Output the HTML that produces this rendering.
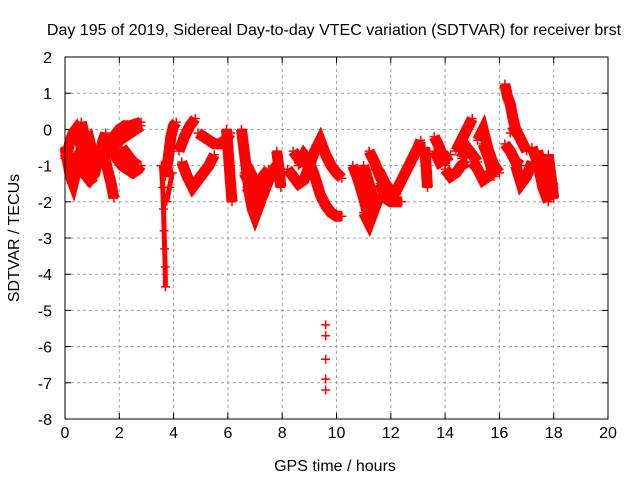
<!DOCTYPE html>
<html><head><meta charset="utf-8"><style>
body{margin:0;background:#fff}
svg text{font-family:"Liberation Sans",sans-serif;font-size:16px;fill:#000}
</style></head><body>
<svg id="chart" width="640" height="480" xmlns="http://www.w3.org/2000/svg">
<rect width="640" height="480" fill="#fff"/>
<text x="334" y="35" text-anchor="middle">Day 195 of 2019, Sidereal Day-to-day VTEC variation (SDTVAR) for receiver brst</text>
<g id="grid"></g>
<g id="axes"></g>
<g id="marks"></g>
<rect x="65" y="57" width="543" height="362" fill="none" stroke="#000" stroke-width="1"/>
<text x="335" y="471" text-anchor="middle">GPS time / hours</text>
<text transform="translate(19,238) rotate(-90)" text-anchor="middle">SDTVAR / TECUs</text>
</svg>
<script>
const xTicks=[0,2,4,6,8,10,12,14,16,18,20];
const yTicks=[2,1,0,-1,-2,-3,-4,-5,-6,-7,-8];
const arcTimes=[
[0,0.1,0.2,0.3,0.4,0.5,0.6,0.7,0.8],
[0,0.1,0.2,0.3,0.4,0.5],
[0.6,0.7,0.8,0.9,1.0,1.1],
[0.8,0.9,1.0,1.1,1.2,1.3,1.4,1.5],
[1.4,1.5,1.6,1.7,1.8],
[1.6,1.8,2.0,2.2,2.4,2.6,2.8],
[1.6,1.8,2.0,2.2,2.4,2.6,2.8],
[1.7,1.9,2.1,2.3,2.5,2.7,2.8],
[3.55,3.6,3.63,3.65,3.67,3.69,3.7],
[3.7,3.8,3.9,4.0,4.1],
[3.75,3.85,3.95],
[4.3,4.5,4.7,4.9,5.1,5.3,5.5],
[4.2,4.4,4.6,4.8],
[4.9,5.1,5.3,5.5,5.7,5.9,6.1],
[5.95,6.0,6.05,6.1,6.15],
[6.5,6.6,6.7,6.8,6.9,7.0,7.2,7.4,7.6,7.8],
[6.6,6.8,7.0,7.2,7.4,7.6,7.8,8.0],
[7.8,7.85,7.9,7.95],
[8.2,8.4,8.6,8.8,9.0,9.2,9.4,9.6,9.8,10.0,10.2],
[8.6,8.8,9.0,9.2,9.4,9.6,9.8,10.0,10.2],
[8.4,8.6,8.8],
[9.6,9.6,9.6,9.6,9.6],
[11.2,11.4,11.6,11.8,12.0,12.2],
[12.0,12.2,12.4,12.6,12.8,13.0,13.1],
[10.6,10.8,11.0,11.2],
[11.0,11.2,11.4],
[11.6,11.8,12.0,12.2,12.4],
[13.25,13.3,13.35],
[13.6,13.8,14.0],
[13.6,13.8,14.0,14.2],
[14.0,14.2,14.4,14.6,14.8],
[14.4,14.6,14.8,15.0],
[15.2,15.4,15.6,15.8,16.0],
[15.4,15.6,15.8],
[16.2,16.3,16.4,16.5,16.6],
[16.2,16.4,16.6,16.8],
[16.4,16.6,16.8,17.0],
[16.6,16.8,17.0,17.2],
[17.2,17.4,17.6,17.8],
[17.4,17.6,17.8,18.0],
[17.8,17.9,18.0],
[15.0,15.2,15.4,15.6,15.8],
[6.7,6.9,7.1,7.3,7.5,7.7],
[2.1,2.3,2.5,2.7],
[0.2,0.4,0.6],
[11.4,11.6,11.8,12.0,12.2],
[14.6,14.8,15.0,15.2],
[0.3,0.5,0.7,0.9,1.1],
[6.7,6.9,7.1,7.3,7.5],
[11.0,11.2,11.4,11.6]
];
const arcValues=[
[-0.8,-0.6,-0.3,-0.1,0.0,-0.2,-0.5,-0.9,-1.3],
[-0.5,-0.9,-1.3,-1.5,-1.2,-0.9],
[0.2,-0.1,-0.4,-0.3,-0.6,-1.2],
[-0.8,-1.0,-1.3,-1.2,-0.9,-0.6,-0.3,-0.1],
[-0.6,-0.9,-1.2,-1.5,-1.9],
[-0.5,-0.2,0.0,0.1,0.1,0.15,0.2],
[-0.7,-0.5,-0.3,-0.2,-0.1,0.0,0.1],
[-0.4,-0.8,-1.0,-1.1,-1.2,-1.1,-1.0],
[-1.0,-1.6,-2.2,-2.8,-3.3,-3.8,-4.35],
[-1.3,-0.8,-0.2,0.1,0.2],
[-2.0,-1.6,-1.2],
[-0.9,-1.3,-1.6,-1.4,-1.2,-1.0,-0.7],
[-0.6,-0.2,0.1,0.3],
[-0.1,-0.2,-0.3,-0.4,-0.4,-0.3,-0.1],
[0.0,-0.5,-1.0,-1.5,-2.0],
[0.0,-0.6,-1.2,-1.8,-2.2,-2.4,-2.0,-1.5,-1.2,-1.0],
[-1.2,-1.5,-1.7,-1.5,-1.3,-1.2,-1.1,-1.2],
[-0.6,-0.9,-1.2,-1.6],
[-1.1,-1.3,-1.5,-1.4,-1.0,-0.6,-0.3,-0.7,-1.0,-1.2,-1.35],
[-1.0,-0.7,-0.9,-1.3,-1.8,-2.1,-2.3,-2.4,-2.4],
[-0.6,-0.8,-1.0],
[-5.4,-5.7,-6.35,-6.9,-7.2],
[-0.6,-0.9,-1.3,-1.6,-1.9,-2.0],
[-1.9,-1.7,-1.4,-1.1,-0.8,-0.5,-0.3],
[-1.0,-1.4,-1.9,-2.5],
[-1.0,-1.5,-2.1],
[-1.5,-1.9,-2.0,-2.0,-2.0],
[-0.5,-1.0,-1.6],
[-0.2,-0.5,-1.0],
[-0.6,-0.9,-0.8,-0.7],
[-1.1,-1.3,-1.2,-1.0,-0.9],
[-0.6,-0.3,0.0,0.3],
[-0.3,0.0,-0.6,-1.0,-1.2],
[-0.4,-0.8,-1.3],
[1.25,0.9,0.7,0.3,0.0],
[-0.4,-0.6,-0.9,-1.0],
[-0.1,0.0,-0.3,-0.6],
[-1.0,-1.5,-1.3,-0.9],
[-0.5,-0.9,-1.6,-2.0],
[-0.6,-1.0,-1.3,-1.6],
[-0.7,-1.3,-1.9],
[-0.9,-1.1,-1.4,-1.3,-1.0],
[-1.6,-1.9,-2.1,-1.8,-1.4,-1.2],
[-0.5,-0.7,-0.9,-1.0],
[-1.0,-0.8,-0.6],
[-1.0,-1.2,-1.5,-1.7,-1.8],
[-0.8,-0.5,-0.7,-0.9],
[-1.3,-1.1,-1.2,-1.4,-1.3],
[-1.0,-1.3,-1.6,-1.3,-1.1],
[-2.3,-2.6,-2.2,-1.8]
];
const NS="http://www.w3.org/2000/svg";
const L=65,R=608,T=57,B=419;
function xs(t){return L+(t-0)/(20-0)*(R-L);}
function ys(v){return T+(2-v)/(2-(-8))*(B-T);}
const grid=document.getElementById('grid'),axes=document.getElementById('axes'),marks=document.getElementById('marks');
function mk(tag,attrs,parent){const e=document.createElementNS(NS,tag);for(const k in attrs)e.setAttribute(k,attrs[k]);parent.appendChild(e);return e;}
xTicks.forEach(t=>{
  const x=xs(t);
  if(t>0&&t<20){const g=mk('line',{x1:x,x2:x,y1:T,y2:B,stroke:'#a0a0a0','stroke-dasharray':'3,3'},grid);
  
  }
  const tk=mk('line',{x1:x,x2:x,y1:B,y2:B-6,stroke:'#000'},axes);
  
  
  const tk2=mk('line',{x1:x,x2:x,y1:T,y2:T+6,stroke:'#000'},axes);
  
  
  const tx=mk('text',{x:x,y:B+19,'text-anchor':'middle'},axes);tx.textContent=t;
  
  
});
yTicks.forEach(v=>{
  const y=ys(v);
  if(v<2&&v>-8){const g=mk('line',{x1:L,x2:R,y1:y,y2:y,stroke:'#a0a0a0','stroke-dasharray':'3,3'},grid);
  
  }
  const tk=mk('line',{x1:L,x2:L+6,y1:y,y2:y,stroke:'#000'},axes);
  
  
  const tk2=mk('line',{x1:R,x2:R-6,y1:y,y2:y,stroke:'#000'},axes);
  
  
  const tx=mk('text',{x:L-13,y:y+6,'text-anchor':'end'},axes);tx.textContent=v;
  
  
});
arcTimes.forEach((ts,i)=>{
  const vs=arcValues[i];
  const pts=ts.map((t,j)=>xs(t)+','+ys(vs[j])).join(' ');
  const w=(i===8||i===10)?5:11;
  if(i!==21){const p=mk('polyline',{points:pts,fill:'none',stroke:'#f00','stroke-width':w,'stroke-linejoin':'miter','stroke-linecap':'butt'},marks);
  
  }
  ts.forEach((t,j)=>{
    const x=xs(t),y=ys(vs[j]);
    const m=mk('path',{d:`M${x-4.5},${y}h9M${x},${y-4.5}v9`,stroke:'#f00','stroke-width':1.5},marks);
    
    
  });
});
</script>
</body></html>
